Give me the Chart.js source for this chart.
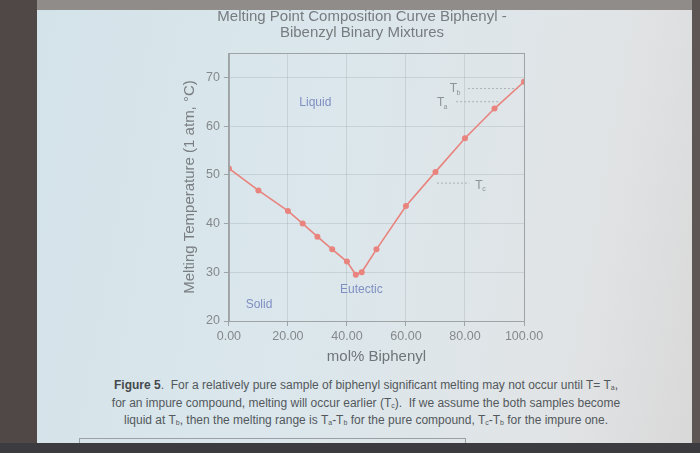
<!DOCTYPE html>
<html>
<head>
<meta charset="utf-8">
<script src="https://cdn.jsdelivr.net/npm/chart.js@4/dist/chart.umd.min.js"></script>
<style>
  html, body { margin: 0; padding: 0; }
  body {
    width: 700px; height: 453px; overflow: hidden; position: relative;
    background: linear-gradient(100deg, #d3e2e9 0%, #dbe7ec 45%, #e1e4e6 80%, #d9d8d8 100%);
    font-family: "Liberation Sans", Arial, sans-serif;
  }
  .edge { position: absolute; }
  #title {
    position: absolute; left: 212px; top: 8px; width: 300px;
    text-align: center; font-size: 15px; line-height: 16px; color: #777c80;
  }
  #wrap { position: absolute; left: 37px; top: 0; width: 655px; height: 370px; }
  #caption {
    position: absolute; left: 91px; top: 377px; width: 550px;
    text-align: center; font-size: 12px; line-height: 17.5px; color: #53585c;
  }
  #caption b { color: #45494d; }
  #caption sub { font-size: 7px; vertical-align: -1px; line-height: 0; }
</style>
</head>
<body>
<div class="edge" style="left:0;top:0;width:700px;height:10px;background:#8f8c8a"></div>
<div class="edge" style="left:0;top:0;width:37px;height:453px;background:#4f4846"></div>
<div class="edge" style="right:0;top:0;width:8px;height:453px;background:#5e5654"></div>
<div class="edge" style="left:0;top:443px;width:700px;height:10px;background:#3c3b40"></div>
<div class="edge" style="left:79px;top:438px;width:385px;height:4px;border:1px solid #9aa0a3;border-bottom:none"></div>
<div id="wrap"><canvas id="meltChart"></canvas></div>
<div id="title">Melting Point Composition Curve Biphenyl -<br>Bibenzyl Binary Mixtures</div>
<div id="caption">
  <b>Figure 5</b>.&nbsp; For a relatively pure sample of biphenyl significant melting may not occur until T= T<sub>a</sub>,<br>
  for an impure compound, melting will occur earlier (T<sub>c</sub>).&nbsp; If we assume the both samples become<br>
  liquid at T<sub>b</sub>, then the melting range is T<sub>a</sub>-T<sub>b</sub> for the pure compound, T<sub>c</sub>-T<sub>b</sub> for the impure one.
</div>
<script>
// Measured data: mol% biphenyl vs melting temperature
const molPercent = [0, 10, 20, 25, 30, 35, 40, 43, 45, 50, 60, 70, 80, 90, 100];
const meltTemp = [51.3, 46.8, 42.6, 40.0, 37.3, 34.7, 32.2, 29.5, 30.0, 34.7, 43.6, 50.6, 57.5, 63.6, 69.1];

// Dotted guide lines for Ta, Tb, Tc
const tbLineX = [81, 98];
const tbLineY = [67.7, 67.7];
const taLineX = [77, 91.5];
const taLineY = [65.0, 65.0];
const tcLineX = [70.5, 81.5];
const tcLineY = [48.3, 48.3];

// Text labels placed in data coordinates
const regionLabels = ['Liquid', 'Solid', 'Eutectic'];
const regionX = [29.3, 10.2, 44.9];
const regionY = [64.8, 23.3, 26.4];
const tempLabels = ['b', 'a', 'c'];
const tempX = [76.8, 72.4, 85.4];
const tempY = [67.7, 64.8, 47.8];

const yTicks = [20, 30, 40, 50, 60, 70];

const lineColor = '#e8837d';
const guideColor = '#a9b0b4';

function guide(xs, ys) {
    return {
        data: xs.map((x, i) => ({ x: x, y: ys[i] })),
        showLine: true,
        borderColor: guideColor,
        borderWidth: 1,
        borderDash: [2, 2],
        pointRadius: 0,
        fill: false
    };
}

// draws the box round the plot and the text labels
const annotations = {
    id: 'annotations',
    afterDatasetsDraw(chart) {
        const c = chart.ctx;
        const a = chart.chartArea;
        const xs = chart.scales.x;
        const ys = chart.scales.y;
        c.save();
        c.strokeStyle = '#9ea3a6';
        c.lineWidth = 1;
        c.strokeRect(a.left + 0.5, a.top + 0.5, a.right - a.left, a.bottom - a.top);

        c.font = '12px "Liberation Sans", Arial, sans-serif';
        c.fillStyle = '#7f8fc2';
        c.textAlign = 'center';
        c.textBaseline = 'middle';
        regionLabels.forEach((t, i) => {
            c.fillText(t, xs.getPixelForValue(regionX[i]), ys.getPixelForValue(regionY[i]));
        });

        c.fillStyle = '#8d9296';
        tempLabels.forEach((s, i) => {
            const px = xs.getPixelForValue(tempX[i]);
            const py = ys.getPixelForValue(tempY[i]);
            c.font = '12px "Liberation Sans", Arial, sans-serif';
            c.fillText('T', px - 2, py);
            c.font = '7px "Liberation Sans", Arial, sans-serif';
            c.fillText(s, px + 3, py + 4);
        });
        c.restore();
    }
};

const ctx = document.getElementById('meltChart').getContext('2d');
const meltChart = new Chart(ctx, {
    type: 'scatter',
    data: {
        datasets: [
            {
                data: molPercent.map((x, i) => ({ x: x, y: meltTemp[i] })),
                showLine: true,
                borderColor: lineColor,
                backgroundColor: lineColor,
                borderWidth: 1.6,
                pointRadius: 3,
                pointBorderWidth: 0
            },
            guide(tbLineX, tbLineY),
            guide(taLineX, taLineY),
            guide(tcLineX, tcLineY)
        ]
    },
    options: {
        responsive: true,
        maintainAspectRatio: false,
        animation: false,
        layout: { padding: { left: 140, right: 168, top: 53, bottom: 4 } },
        plugins: {
            legend: { display: false },
            tooltip: { enabled: false },
            title: { display: false }
        },
        scales: {
            x: {
                type: 'linear',
                min: 0,
                max: 100,
                ticks: {
                    stepSize: 20,
                    color: '#85898c',
                    font: { family: '"Liberation Sans", Arial, sans-serif', size: 12.5 },
                    padding: 3,
                    maxRotation: 0,
                    callback: v => v.toFixed(2)
                },
                grid: { color: 'rgba(160,172,178,0.35)', tickColor: '#9ea3a6', tickLength: 5 },
                border: { color: '#9ea3a6' },
                title: {
                    display: true,
                    text: 'mol% Biphenyl',
                    color: '#6f7478',
                    font: { family: '"Liberation Sans", Arial, sans-serif', size: 15 },
                    padding: { top: 1, bottom: 0 }
                }
            },
            y: {
                min: 20,
                max: 75,
                afterBuildTicks: axis => { axis.ticks = yTicks.map(v => ({ value: v })); },
                ticks: {
                    color: '#85898c',
                    font: { family: '"Liberation Sans", Arial, sans-serif', size: 12.5 },
                    padding: 4
                },
                grid: { color: 'rgba(160,172,178,0.35)', tickColor: '#9ea3a6', tickLength: 5 },
                border: { color: '#9ea3a6' },
                title: {
                    display: true,
                    text: 'Melting Temperature (1 atm, °C)',
                    color: '#7a7f83',
                    font: { family: '"Liberation Sans", Arial, sans-serif', size: 15 },
                    padding: { bottom: 3 }
                }
            }
        }
    },
    plugins: [annotations]
});
</script>
</body>
</html>
